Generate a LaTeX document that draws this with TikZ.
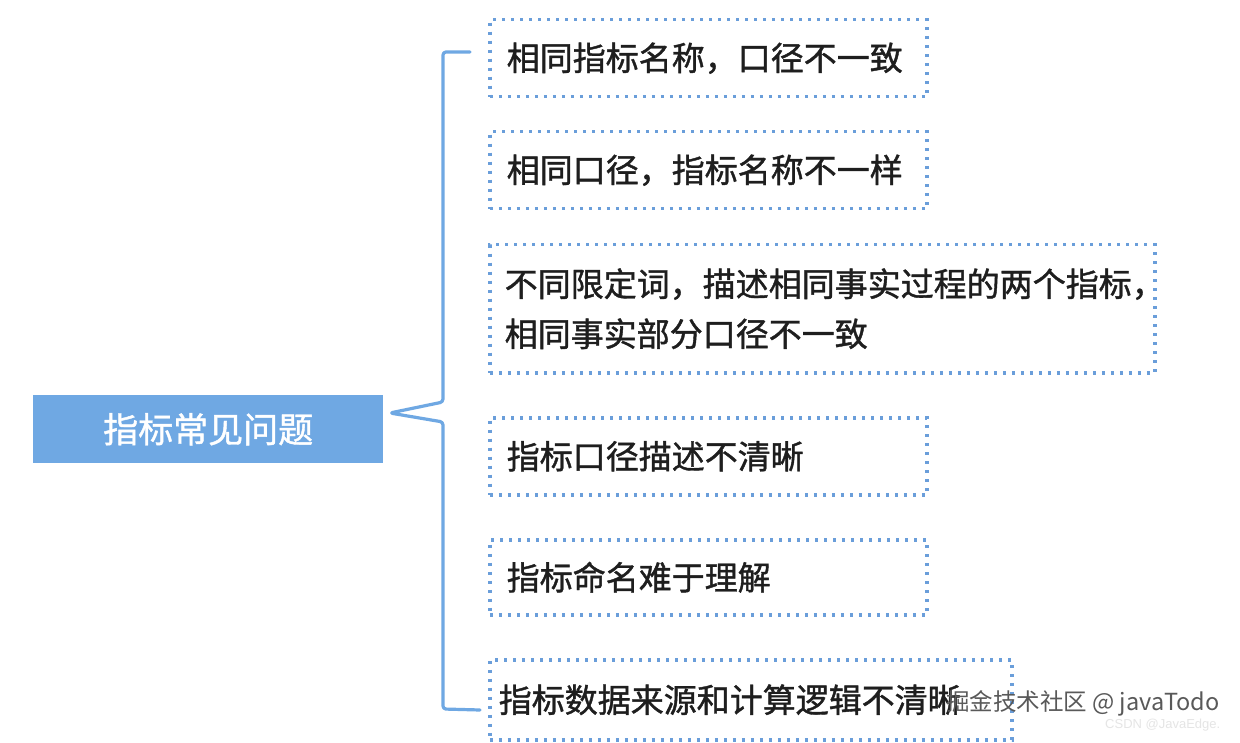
\documentclass[tikz,border=0pt]{standalone}
\usepackage{fontspec}
\newfontfamily\cjk[FakeBold=1.2]{Noto Sans CJK SC}
\newfontfamily\cjkw{Noto Sans CJK SC}
\newfontfamily\lsans{Liberation Sans}
\definecolor{blu}{HTML}{6FA8E3}
\definecolor{dotc}{HTML}{6A9EDA}
\definecolor{ink}{HTML}{1E1E1E}
\begin{document}
\begin{tikzpicture}[x=1pt,y=-1pt,
  leaf/.style={draw=dotc, line width=3.5pt, dash pattern=on 3.2pt off 5.8pt,
    anchor=north west, inner xsep=17pt, inner ysep=0pt, align=left,
    font=\cjk\fontsize{33}{50}\selectfont, text=ink},
  rootbox/.style={fill=blu, anchor=north west, minimum width=350pt,
    minimum height=68pt, inner sep=0pt, text=white,
    font=\cjk\fontsize{35}{35}\selectfont},
  bracket/.style={draw=blu, line width=3.2pt, line cap=round, line join=round,
    rounded corners=3pt}]
\useasboundingbox[fill=white] (0,0) rectangle (1240,743);

\node[rootbox] (root) at (33,395) {指标常见问题};

\node[leaf, text width=403pt, minimum height=77pt] (b1) at (488,18) {相同指标名称，口径不一致};
\node[leaf, text width=403pt, minimum height=77pt] (b2) at (488,130) {相同口径，指标名称不一样};
\node[leaf, inner xsep=15pt, text width=635pt, minimum height=128pt] (b3) at (488,243)
  {不同限定词，描述相同事实过程的两个指标，\\相同事实部分口径不一致};
\node[leaf, text width=403pt, minimum height=77pt] (b4) at (488,416) {指标口径描述不清晰};
\node[leaf, text width=403pt, minimum height=75pt] (b5) at (488,538) {指标命名难于理解};
\node[leaf, inner xsep=9pt, text width=504pt, minimum height=80pt] (b6) at (488,658) {指标数据来源和计算逻辑不清晰};

\coordinate (h1) at (470,52);
\coordinate (h6) at (480,710);
\coordinate (tip) at (390,413);
\draw[bracket] (h1) -- (443,52) -- (443,402) -- (tip) -- (443,422) -- (443,709) -- (h6);

\node[font=\cjkw\fontsize{23.5}{23.5}\selectfont, text=gray!70!black, anchor=west, inner sep=0pt] (wm) at (946,703) {掘金技术社区 @ javaTodo};
\node[font=\lsans\fontsize{13}{13}\selectfont, text=white!80!gray, anchor=west, inner sep=0pt] (wm2) at (1105,725) {CSDN @JavaEdge.};
\end{tikzpicture}
\end{document}
